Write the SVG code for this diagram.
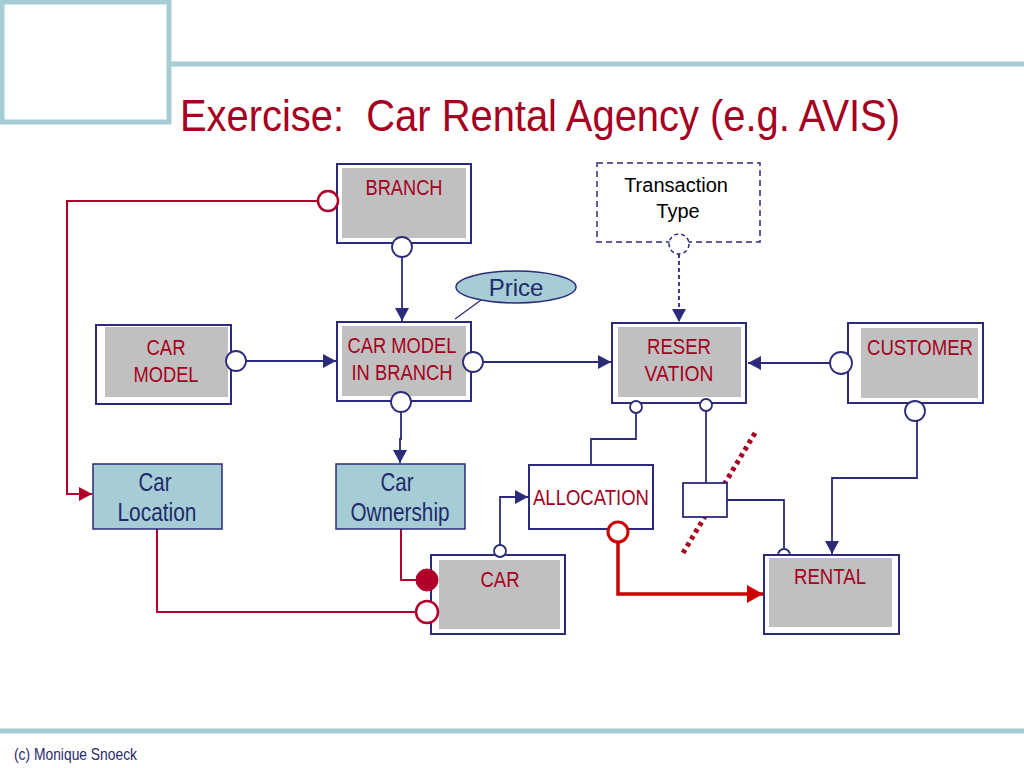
<svg xmlns="http://www.w3.org/2000/svg" width="1024" height="768" viewBox="0 0 1024 768">
<defs>
<style>
.hdr{fill:none;stroke:#a6cdd6;stroke-width:5}
.box{fill:#fff;stroke:#2b2b7a;stroke-width:2}
.inner{fill:#c0c0c0}
.attr{fill:#a6cdd6;stroke:#2b2b7a;stroke-width:1.5}
.lbl{font-family:"Liberation Sans Narrow","Liberation Sans",Arial,sans-serif;font-size:22px;fill:#a50021;text-anchor:middle}
.lblb{font-family:"Liberation Sans Narrow","Liberation Sans",Arial,sans-serif;font-size:25px;fill:#1f2a6b;text-anchor:middle}
.nv{fill:none;stroke:#2b2b7a;stroke-width:1.8}
.nvc{fill:#fff;stroke:#2b2b7a;stroke-width:1.8}
.rd{fill:none;stroke:#b0002a;stroke-width:2}
.rdc{fill:#fff;stroke:#b0002a;stroke-width:2.5}
</style>
<marker id="an" markerUnits="userSpaceOnUse" markerWidth="14" markerHeight="14" refX="13" refY="7" orient="auto"><path d="M0,0 L13,7 L0,14 z" fill="#2b2b7a"/></marker>
<marker id="ar" markerUnits="userSpaceOnUse" markerWidth="14" markerHeight="14" refX="13" refY="7" orient="auto"><path d="M0,0 L13,7 L0,14 z" fill="#b0002a"/></marker>
<marker id="ar2" markerUnits="userSpaceOnUse" markerWidth="18" markerHeight="18" refX="16" refY="9" orient="auto"><path d="M0,0 L16,9 L0,18 z" fill="#cc0000"/></marker>
</defs>
<rect width="1024" height="768" fill="#fff"/>
<g id="header">
<rect class="hdr" x="2" y="2" width="167" height="120"/>
<line class="hdr" x1="169" y1="64" x2="1024" y2="64"/>
<text x="180" y="131" xml:space="preserve" font-family="'Liberation Sans Narrow','Liberation Sans',Arial,sans-serif" font-size="44" fill="#a50021" textLength="720" lengthAdjust="spacingAndGlyphs">Exercise:  Car Rental Agency (e.g. AVIS)</text>
<line class="hdr" x1="0" y1="731" x2="1024" y2="731"/>
<text x="14" y="760" font-family="'Liberation Sans Narrow','Liberation Sans',Arial,sans-serif" font-size="17" fill="#2b2b6b" textLength="123" lengthAdjust="spacingAndGlyphs">(c) Monique Snoeck</text>
</g>
<g id="connectors">
<path class="rd" d="M318,201 H67 V494 H92" marker-end="url(#ar)"/>
<path class="nv" d="M402,257 V321" marker-end="url(#an)"/>
<path class="nv" d="M246,361 H336" marker-end="url(#an)"/>
<path class="nv" d="M483,362 H611" marker-end="url(#an)"/>
<path class="nv" d="M679,254 V322" stroke-dasharray="4,3" marker-end="url(#an)"/>
<path class="nv" d="M830,363 H748" marker-end="url(#an)"/>
<path class="nv" d="M401,412 V439 H400 V463" marker-end="url(#an)"/>
<path class="nv" d="M636,413 V439 H591 V465"/>
<path class="nv" d="M706,411 V483"/>
<path class="nv" d="M727,500 H784 V548"/>
<path class="nv" d="M917,421 V478 H832 V554" marker-end="url(#an)"/>
<path class="nv" d="M500,545 V497 H528" marker-end="url(#an)"/>
<path class="rd" d="M401,529 V580 H416"/>
<path class="rd" d="M157,529 V612 H416"/>
<path d="M618,542 V594 H763" fill="none" stroke="#cc0000" stroke-width="3.5" marker-end="url(#ar2)"/>
<line x1="455" y1="319" x2="488" y2="295" stroke="#2b2b7a" stroke-width="1.2"/>
<line x1="755" y1="433" x2="683" y2="553" stroke="#a50021" stroke-width="5" stroke-dasharray="4,4"/>
</g>
<g id="branch">
<rect class="box" x="337" y="164" width="134" height="79"/>
<rect class="inner" x="342" y="168" width="124" height="70"/>
<text class="lbl" x="404" y="195" textLength="77" lengthAdjust="spacingAndGlyphs">BRANCH</text>
</g>
<g id="carmodel">
<rect class="box" x="96" y="325" width="135" height="79"/>
<rect class="inner" x="105" y="327" width="123" height="70"/>
<text class="lbl" x="166" y="355" textLength="39" lengthAdjust="spacingAndGlyphs">CAR</text>
<text class="lbl" x="166" y="382" textLength="65" lengthAdjust="spacingAndGlyphs">MODEL</text>
</g>
<g id="cmib">
<rect class="box" x="337" y="322" width="134" height="79"/>
<rect class="inner" x="342" y="326" width="124" height="70"/>
<text class="lbl" x="402" y="353" textLength="109" lengthAdjust="spacingAndGlyphs">CAR MODEL</text>
<text class="lbl" x="402" y="380" textLength="101" lengthAdjust="spacingAndGlyphs">IN BRANCH</text>
</g>
<g id="price">
<ellipse class="attr" cx="516" cy="287" rx="60" ry="16"/>
<text x="516" y="296" font-family="'Liberation Sans',Arial,sans-serif" font-size="24" fill="#1f2a6b" text-anchor="middle">Price</text>
</g>
<g id="transactiontype">
<rect x="597" y="163" width="163" height="79" fill="#fff" stroke="#2b2b7a" stroke-width="1.5" stroke-dasharray="6,4"/>
<text x="676" y="192" font-family="'Liberation Sans',Arial,sans-serif" font-size="20" fill="#000" text-anchor="middle">Transaction</text>
<text x="678" y="218" font-family="'Liberation Sans',Arial,sans-serif" font-size="20" fill="#000" text-anchor="middle">Type</text>
</g>
<g id="reservation">
<rect class="box" x="612" y="323" width="134" height="80"/>
<rect class="inner" x="618" y="327" width="123" height="70"/>
<text class="lbl" x="679" y="354" textLength="64" lengthAdjust="spacingAndGlyphs">RESER</text>
<text class="lbl" x="679" y="381" textLength="69" lengthAdjust="spacingAndGlyphs">VATION</text>
</g>
<g id="customer">
<rect class="box" x="848" y="323" width="135" height="80"/>
<rect class="inner" x="861" y="328" width="117" height="70"/>
<text class="lbl" x="920" y="355" textLength="106" lengthAdjust="spacingAndGlyphs">CUSTOMER</text>
</g>
<g id="carlocation">
<rect class="attr" x="93" y="464" width="129" height="65"/>
<text class="lblb" x="155" y="491" textLength="33" lengthAdjust="spacingAndGlyphs">Car</text>
<text class="lblb" x="157" y="521" textLength="79" lengthAdjust="spacingAndGlyphs">Location</text>
</g>
<g id="carownership">
<rect class="attr" x="336" y="464" width="129" height="65"/>
<text class="lblb" x="397" y="491" textLength="33" lengthAdjust="spacingAndGlyphs">Car</text>
<text class="lblb" x="400" y="521" textLength="99" lengthAdjust="spacingAndGlyphs">Ownership</text>
</g>
<g id="allocation">
<rect class="box" x="529" y="465" width="124" height="64"/>
<text class="lbl" x="591" y="505" textLength="116" lengthAdjust="spacingAndGlyphs">ALLOCATION</text>
</g>
<g id="smallbox">
<rect x="683" y="483" width="44" height="34" fill="#fff" stroke="#2b2b7a" stroke-width="1.8"/>
</g>
<g id="car">
<rect class="box" x="431" y="555" width="134" height="79"/>
<rect class="inner" x="439" y="560" width="121" height="69"/>
<text class="lbl" x="500" y="587" textLength="39" lengthAdjust="spacingAndGlyphs">CAR</text>
</g>
<g id="rental">
<rect class="box" x="764" y="555" width="135" height="79"/>
<rect class="inner" x="769" y="558" width="123" height="69"/>
<text class="lbl" x="830" y="584" textLength="72" lengthAdjust="spacingAndGlyphs">RENTAL</text>
</g>
<g id="connector-ends">
<circle class="rdc" cx="328" cy="201" r="10"/>
<circle class="nvc" cx="402" cy="247" r="10"/>
<circle class="nvc" cx="236" cy="361" r="10"/>
<circle class="nvc" cx="473" cy="362" r="10"/>
<circle class="nvc" cx="401" cy="402" r="10"/>
<circle cx="679" cy="244" r="10" fill="#fff" stroke="#2b2b7a" stroke-width="1.5" stroke-dasharray="4,3"/>
<circle class="nvc" cx="841" cy="363" r="11"/>
<circle class="nvc" cx="636" cy="407" r="6"/>
<circle class="nvc" cx="706" cy="405" r="6"/>
<circle class="nvc" cx="915" cy="411" r="10"/>
<path d="M778,555 A6,6 0 0 1 790,555 Z" fill="#fff" stroke="#2b2b7a" stroke-width="1.8"/>
<circle class="nvc" cx="500" cy="551" r="6"/>
<circle cx="427" cy="580" r="11" fill="#b0002a" stroke="#b0002a" stroke-width="1"/>
<circle class="rdc" cx="427" cy="612" r="11"/>
<circle cx="618" cy="532" r="10" fill="#fff" stroke="#cc0000" stroke-width="3"/>
</g>
</svg>
